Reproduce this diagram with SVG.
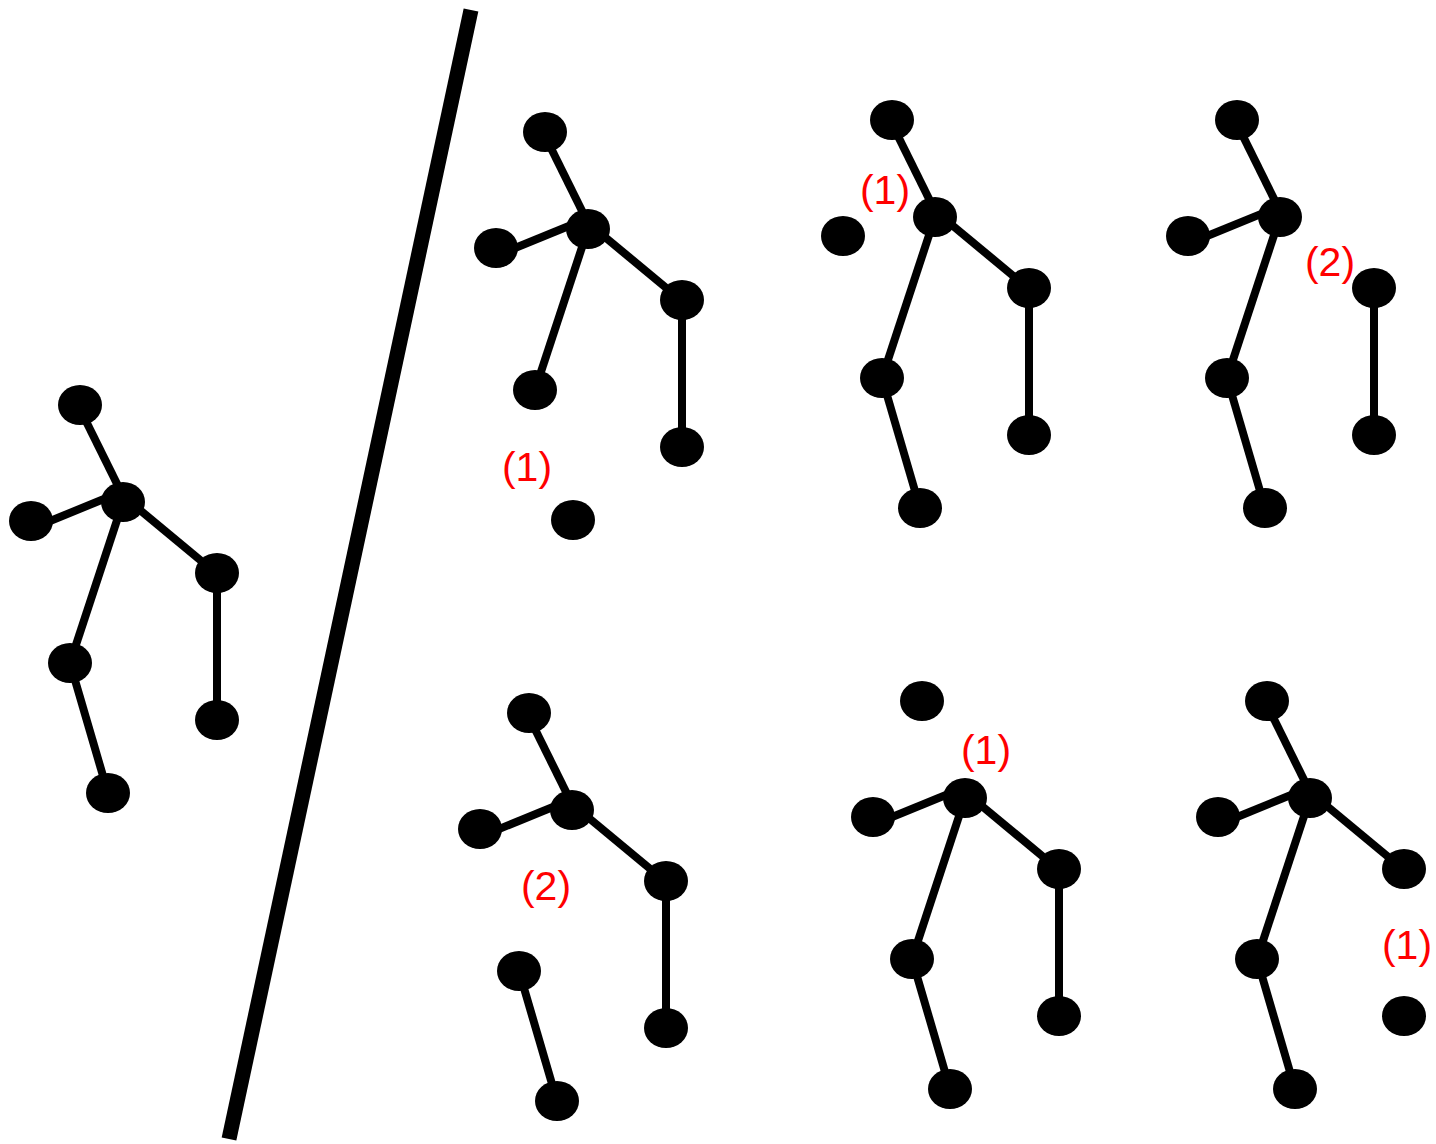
<svg xmlns="http://www.w3.org/2000/svg" width="1436" height="1144" viewBox="0 0 1436 1144">
<style>
.e{stroke:#000;stroke-width:8;fill:none}
.n{fill:#000}
.lbl{font-family:"Liberation Sans",Arial,sans-serif;font-size:41px;fill:#ff0000;text-anchor:middle}
</style>
<defs>
<line id="hc" class="e" x1="78" y1="405" x2="126" y2="502"/>
<line id="lc" class="e" x1="33" y1="528" x2="121" y2="492"/>
<line id="cs" class="e" x1="123" y1="496" x2="217" y2="574"/>
<line id="sr" class="e" x1="217" y1="573" x2="217" y2="720"/>
<line id="ck" class="e" x1="123" y1="502" x2="70" y2="663"/>
<line id="kf" class="e" x1="70" y1="663" x2="108" y2="793"/>
<ellipse id="nd" class="n" rx="22" ry="20"/>
</defs>
<rect width="1436" height="1144" fill="#fff"/>
<line id="divider" x1="471" y1="10" x2="229" y2="1139" stroke="#000" stroke-width="15"/>
<g id="connectors">
<g transform="translate(0,0)"><use href="#hc"/><use href="#lc"/><use href="#cs"/><use href="#sr"/><use href="#ck"/><use href="#kf"/></g>
<g transform="translate(465,-273)"><use href="#hc"/><use href="#lc"/><use href="#cs"/><use href="#sr"/><use href="#ck"/></g>
<g transform="translate(812,-285)"><use href="#hc"/><use href="#cs"/><use href="#sr"/><use href="#ck"/><use href="#kf"/></g>
<g transform="translate(1157,-285)"><use href="#hc"/><use href="#lc"/><use href="#sr"/><use href="#ck"/><use href="#kf"/></g>
<g transform="translate(449,308)"><use href="#hc"/><use href="#lc"/><use href="#cs"/><use href="#sr"/><use href="#kf"/></g>
<g transform="translate(842,296)"><use href="#lc"/><use href="#cs"/><use href="#sr"/><use href="#ck"/><use href="#kf"/></g>
<g transform="translate(1187,296)"><use href="#hc"/><use href="#lc"/><use href="#cs"/><use href="#ck"/><use href="#kf"/></g>
</g>
<g id="fig1" transform="translate(0,0)">
<g id="f1-head"><use href="#nd" x="80" y="405"/></g>
<g id="f1-lhand"><use href="#nd" x="31" y="521"/></g>
<g id="f1-center"><use href="#nd" x="123" y="502"/></g>
<g id="f1-shoulder"><use href="#nd" x="217" y="573"/></g>
<g id="f1-rhand"><use href="#nd" x="217" y="720"/></g>
<g id="f1-knee"><use href="#nd" x="70" y="663"/></g>
<g id="f1-foot"><use href="#nd" x="108" y="793"/></g>
</g>
<g id="fig2" transform="translate(465,-273)">
<g id="f2-head"><use href="#nd" x="80" y="405"/></g>
<g id="f2-lhand"><use href="#nd" x="31" y="521"/></g>
<g id="f2-center"><use href="#nd" x="123" y="502"/></g>
<g id="f2-shoulder"><use href="#nd" x="217" y="573"/></g>
<g id="f2-rhand"><use href="#nd" x="217" y="720"/></g>
<g id="f2-knee"><use href="#nd" x="70" y="663"/></g>
<g id="f2-foot"><use href="#nd" x="108" y="793"/></g>
</g>
<g id="fig3" transform="translate(812,-285)">
<g id="f3-head"><use href="#nd" x="80" y="405"/></g>
<g id="f3-lhand"><use href="#nd" x="31" y="521"/></g>
<g id="f3-center"><use href="#nd" x="123" y="502"/></g>
<g id="f3-shoulder"><use href="#nd" x="217" y="573"/></g>
<g id="f3-rhand"><use href="#nd" x="217" y="720"/></g>
<g id="f3-knee"><use href="#nd" x="70" y="663"/></g>
<g id="f3-foot"><use href="#nd" x="108" y="793"/></g>
</g>
<g id="fig4" transform="translate(1157,-285)">
<g id="f4-head"><use href="#nd" x="80" y="405"/></g>
<g id="f4-lhand"><use href="#nd" x="31" y="521"/></g>
<g id="f4-center"><use href="#nd" x="123" y="502"/></g>
<g id="f4-shoulder"><use href="#nd" x="217" y="573"/></g>
<g id="f4-rhand"><use href="#nd" x="217" y="720"/></g>
<g id="f4-knee"><use href="#nd" x="70" y="663"/></g>
<g id="f4-foot"><use href="#nd" x="108" y="793"/></g>
</g>
<g id="fig5" transform="translate(449,308)">
<g id="f5-head"><use href="#nd" x="80" y="405"/></g>
<g id="f5-lhand"><use href="#nd" x="31" y="521"/></g>
<g id="f5-center"><use href="#nd" x="123" y="502"/></g>
<g id="f5-shoulder"><use href="#nd" x="217" y="573"/></g>
<g id="f5-rhand"><use href="#nd" x="217" y="720"/></g>
<g id="f5-knee"><use href="#nd" x="70" y="663"/></g>
<g id="f5-foot"><use href="#nd" x="108" y="793"/></g>
</g>
<g id="fig6" transform="translate(842,296)">
<g id="f6-head"><use href="#nd" x="80" y="405"/></g>
<g id="f6-lhand"><use href="#nd" x="31" y="521"/></g>
<g id="f6-center"><use href="#nd" x="123" y="502"/></g>
<g id="f6-shoulder"><use href="#nd" x="217" y="573"/></g>
<g id="f6-rhand"><use href="#nd" x="217" y="720"/></g>
<g id="f6-knee"><use href="#nd" x="70" y="663"/></g>
<g id="f6-foot"><use href="#nd" x="108" y="793"/></g>
</g>
<g id="fig7" transform="translate(1187,296)">
<g id="f7-head"><use href="#nd" x="80" y="405"/></g>
<g id="f7-lhand"><use href="#nd" x="31" y="521"/></g>
<g id="f7-center"><use href="#nd" x="123" y="502"/></g>
<g id="f7-shoulder"><use href="#nd" x="217" y="573"/></g>
<g id="f7-rhand"><use href="#nd" x="217" y="720"/></g>
<g id="f7-knee"><use href="#nd" x="70" y="663"/></g>
<g id="f7-foot"><use href="#nd" x="108" y="793"/></g>
</g>
<g id="labels">
<text class="lbl" x="527" y="481">(1)</text>
<text class="lbl" x="885" y="204">(1)</text>
<text class="lbl" x="1330" y="276">(2)</text>
<text class="lbl" x="546" y="900">(2)</text>
<text class="lbl" x="986" y="764">(1)</text>
<text class="lbl" x="1407" y="959">(1)</text>
</g>
</svg>
